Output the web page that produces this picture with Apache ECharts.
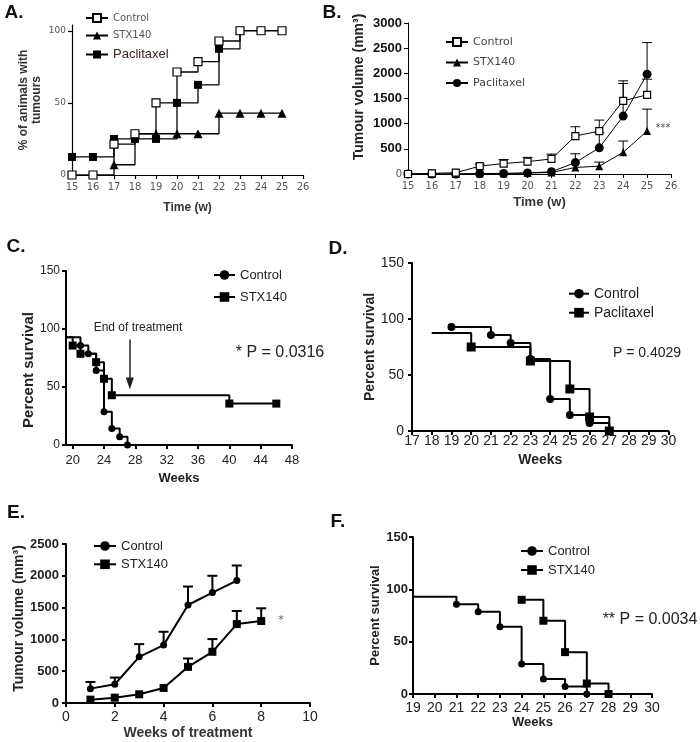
<!DOCTYPE html>
<html><head><meta charset="utf-8">
<script src="https://cdn.jsdelivr.net/npm/echarts@6/dist/echarts.min.js"></script>
<style>html,body{margin:0;padding:0;background:#fff}#main{width:700px;height:742px}</style>
</head><body><div id="main"></div>
<script>
// ---------- Panel A: % of animals with tumours ----------
const aWeeks = [15,16,17,18,19,20,21,22,23,24,25];
const aControl = [0,0,21.4,28.6,50,71.4,78.6,92.9,100,100,100];
const aStxWeeks = [17,18,19,20,21,22,23,24,25];
const aStx = [7.1,28.6,28.6,28.6,28.6,42.9,42.9,42.9,42.9];
const aPacWeeks = [15,16,17,18,19,20,21,22,23];
const aPac = [12.5,12.5,25,25,25,50,62.5,87.5,100];
const aYTicks = [0,50,100];
// ---------- Panel B: tumour volume ----------
const bWeeks = [15,16,17,18,19,20,21,22,23,24,25];
const bControl = [0,13,26,156,208,245,300,754,853,1454,1573];
const bControlSem = [null,null,null,39,78,85,95,185,218,397,311];
const bStx = [0,0,0,10,10,20,30,130,156,430,853];
const bStxSem = [null,null,null,null,null,null,null,null,80,225,436];
const bPac = [0,0,0,5,10,20,45,227,520,1150,1983];
const bPacSem = [null,null,null,null,null,null,null,175,300,648,628];
// ---------- Panel C: survival, Control vs STX140 ----------
const cCtrlWeeks = [19,21,22,23,24,25,26,27];
const cCtrl = [92.9,85.7,78.6,64.3,28.6,14.3,7.1,0];
const cStxWeeks = [19,20,21,23,24,25,40,46];
const cStx = [92.9,85.7,78.6,71.4,57.1,42.9,35.7,35.7];
const cXTicks = [20,24,28,32,36,40,44,48];
const cTreatmentEnd = 27.3;
// ---------- Panel D: survival, Control vs Paclitaxel ----------
const dCtrlWeeks = [19,21,22,23,24,25,26,27];
const dCtrl = [92.9,85.7,78.6,64.3,28.6,14.3,7.1,0];
const dPacWeeks = [18,20,23,25,26,27];
const dPac = [87.5,75,62.5,37.5,12.5,0];
// ---------- Panel E: tumour volume during treatment ----------
const eCtrlWeeks = [1,2,3,4,5,6,7];
const eCtrl = [226,295,726,910,1541,1736,1925];
const eCtrlSem = [105,105,200,210,290,264,237];
const eStxWeeks = [1,2,3,4,5,6,7,8];
const eStx = [53,84,137,237,568,805,1241,1289];
const eStxSem = [null,null,null,null,132,200,206,200];
// ---------- Panel F: survival, Control vs STX140 ----------
const fCtrlWeeks = [19,21,22,23,24,25,26,27];
const fCtrl = [92.9,85.7,78.6,64.3,28.6,14.3,7.1,0];
const fStxWeeks = [24,25,26,27,28];
const fStx = [90,70,40,10,0];

const SANS = "'Liberation Sans', Arial, sans-serif";
const NARROW = "'Liberation Sans Narrow', 'Liberation Sans', Arial, sans-serif";
const DEJAVU = "'DejaVu Sans', Verdana, sans-serif";

const chart = echarts.init(document.getElementById('main'), null, {renderer:'canvas', width:700, height:742});

function axis(kind, idx, o) {
  const ax = {
    type:'value', gridIndex: idx, min:o.min, max:o.max,
    splitLine:{show:false},
    axisLine:{show:true, onZero:false, lineStyle:{color:'#000', width:o.lw}},
    axisTick:{show:true, length:4, lineStyle:{color:'#000', width:o.lw}},
    axisLabel:Object.assign({margin:o.margin, fontSize:o.fs, fontFamily:o.ff, color:o.color||'#222', fontWeight:o.fw||'normal', formatter:v=>String(v)}, o.labelExtra||{}),
    name:o.name, nameLocation:'middle', nameGap:o.gap,
    nameTextStyle:{fontSize:o.nfs, fontWeight:'bold', fontFamily:SANS, color:o.ncolor||'#222', lineHeight:o.nlh, padding:o.npad||0}
  };
  if (o.interval != null) ax.interval = o.interval;
  if (o.ticks) { ax.axisTick.customValues = o.ticks; ax.axisLabel.customValues = o.ticks; }
  return ax;
}

function line(idx, name, xs, ys, o) {
  return {
    type:'line', name:name, xAxisIndex:idx, yAxisIndex:idx,
    step: o.step ? 'end' : false, clip: !!o.clip, silent:true, z:3,
    data: xs.map((x,i)=>({value:[x, ys[i]], symbol:(o.hideFirst && i===0) ? 'none' : o.symbol})),
    symbol:o.symbol, symbolSize:o.size, showAllSymbol:true,
    lineStyle:{color:'#000', width:o.lw},
    itemStyle:{color:o.open ? '#fff' : '#000', borderColor:'#000', borderWidth:o.open ? 1.2 : 0},
    emphasis:{disabled:true}, animation:false,
    markLine:o.markLine
  };
}

function errBars(idx, xs, ys, sems, cap, lw) {
  const data = [];
  xs.forEach((x,i)=>{ if (sems[i] != null) data.push([x, ys[i], ys[i] + sems[i]]); });
  return {
    type:'custom', xAxisIndex:idx, yAxisIndex:idx, silent:true, z:2, animation:false,
    renderItem(params, api) {
      const p0 = api.coord([api.value(0), api.value(1)]);
      const p1 = api.coord([api.value(0), api.value(2)]);
      const st = {stroke:'#000', lineWidth:lw};
      return {type:'group', children:[
        {type:'line', shape:{x1:p0[0], y1:p0[1], x2:p1[0], y2:p1[1]}, style:st},
        {type:'line', shape:{x1:p1[0]-cap/2, y1:p1[1], x2:p1[0]+cap/2, y2:p1[1]}, style:st}
      ]};
    },
    data:data
  };
}

function legend(left, top, names, o) {
  return {
    left:left, top:top, orient:'vertical', itemWidth:o.iw, itemHeight:o.ih, itemGap:o.gap,
    selectedMode:false, formatter:n=>n.split('|')[1],
    textStyle:{fontSize:o.fs, fontFamily:o.ff, color:o.color||'#222'},
    data:names
  };
}

function txt(x, y, text, font, fill) {
  return {type:'text', x:x, y:y, silent:true,
    style:{text:text, font:font, fill:fill||'#111', textAlign:'center', textVerticalAlign:'middle', align:'center', verticalAlign:'middle'}};
}

const option = {
  backgroundColor:'#fff', animation:false,
  grid:[
    {left:72, top:25, width:231, height:150},
    {left:408, top:23, width:263, height:151},
    {left:66, top:271, width:226, height:174},
    {left:412, top:263, width:256.5, height:168},
    {left:66, top:544, width:244, height:159},
    {left:413, top:537, width:239, height:157}
  ],
  xAxis:[
    axis('x',0,{min:15,max:26,interval:1,lw:1.2,margin:7,fs:10,ff:DEJAVU,color:'#555',name:'Time (w)',gap:27,nfs:12,ncolor:'#333'}),
    axis('x',1,{min:15,max:26,interval:1,lw:1,margin:7,fs:10,ff:DEJAVU,color:'#555',name:'Time (w)',gap:22,nfs:13,ncolor:'#333'}),
    axis('x',2,{min:19.15,max:48,ticks:cXTicks,lw:2,margin:9,fs:13,ff:NARROW,name:'Weeks',gap:27,nfs:13}),
    axis('x',3,{min:17,max:30,interval:1,lw:2,margin:3,fs:14,ff:SANS,name:'Weeks',gap:22,nfs:14}),
    axis('x',4,{min:0,max:10,interval:2,lw:2,margin:7,fs:14,ff:SANS,name:'Weeks of treatment',gap:23,nfs:14,ncolor:'#333'}),
    axis('x',5,{min:19,max:30,interval:1,lw:2,margin:7,fs:14,ff:NARROW,name:'Weeks',gap:21,nfs:13})
  ],
  yAxis:[
    axis('y',0,{min:0,max:104,ticks:aYTicks,lw:1.2,margin:6,fs:9,ff:DEJAVU,color:'#555',name:'% of animals with\ntumours',gap:29,nfs:12,nlh:13,ncolor:'#333'}),
    axis('y',1,{min:0,max:3000,interval:500,lw:1,margin:6,fs:13,ff:SANS,name:'Tumour volume (mm³)',gap:42,nfs:14,npad:[0,0,0,23],
      labelExtra:{formatter:v=>v===0?'{z|0}':'{b|'+v+'}', rich:{z:{fontSize:10,fontFamily:DEJAVU,color:'#555'}, b:{fontSize:13,fontWeight:'bold',fontFamily:SANS,color:'#111'}}}}),
    axis('y',2,{min:0,max:150,interval:50,lw:2,margin:6,fs:12,ff:NARROW,name:'Percent survival',gap:26,nfs:15,npad:[0,24,0,0]}),
    axis('y',3,{min:0,max:150,interval:50,lw:2,margin:8,fs:14,ff:SANS,name:'Percent survival',gap:31,nfs:14}),
    axis('y',4,{min:0,max:2500,interval:500,lw:2,margin:7,fs:13,ff:SANS,fw:'bold',name:'Tumour volume (mm³)',gap:40,nfs:14,npad:[0,0,0,10]}),
    axis('y',5,{min:0,max:150,interval:50,lw:2,margin:5,fs:13,ff:NARROW,fw:'bold',name:'Percent survival',gap:28,nfs:13})
  ],
  legend:[
    legend(80, 8, [
      {name:'A|Control', textStyle:{fontSize:10, fontFamily:DEJAVU, color:'#555'}},
      {name:'A|STX140', textStyle:{fontSize:10, fontFamily:DEJAVU, color:'#555'}},
      {name:'A|Paclitaxel', textStyle:{fontSize:13, fontFamily:SANS, color:'#402424'}}
    ], {iw:22, ih:10, gap:7.5, fs:10, ff:DEJAVU}),
    legend(440, 31.5, ['B|Control','B|STX140','B|Paclitaxel'], {iw:22, ih:10, gap:9.5, fs:11, ff:DEJAVU, color:'#444'}),
    legend(208, 263.5, ['C|Control','C|STX140'], {iw:21, ih:12, gap:9, fs:13, ff:SANS}),
    legend(563, 281.7, ['D|Control','D|Paclitaxel'], {iw:20, ih:12, gap:5, fs:14, ff:SANS}),
    legend(88, 534.5, ['E|Control','E|STX140'], {iw:22, ih:12, gap:5.3, fs:13, ff:SANS}),
    legend(515, 539.5, ['F|Control','F|STX140'], {iw:22, ih:12, gap:6, fs:13, ff:SANS})
  ],
  series:[
    // A
    line(0,'A|Paclitaxel',aPacWeeks,aPac,{step:true,symbol:'rect',size:8,lw:1.3}),
    line(0,'A|STX140',aStxWeeks,aStx,{step:true,symbol:'triangle',size:9,lw:1.3}),
    line(0,'A|Control',aWeeks,aControl,{step:true,symbol:'rect',size:8,lw:1.3,open:true}),
    // B
    errBars(1,bWeeks,bPac,bPacSem,10,1),
    errBars(1,bWeeks,bStx,bStxSem,10,1),
    errBars(1,bWeeks,bControl,bControlSem,10,1),
    line(1,'B|Paclitaxel',bWeeks,bPac,{symbol:'circle',size:9,lw:1}),
    line(1,'B|STX140',bWeeks,bStx,{symbol:'triangle',size:8,lw:1}),
    line(1,'B|Control',bWeeks,bControl,{symbol:'rect',size:7,lw:1,open:true}),
    // C
    line(2,'C|Control',cCtrlWeeks,cCtrl,{step:true,clip:true,hideFirst:true,symbol:'circle',size:7,lw:2}),
    line(2,'C|STX140',cStxWeeks,cStx,{step:true,clip:true,hideFirst:true,symbol:'rect',size:8,lw:2,
      markLine:{silent:true, symbol:['none','triangle'], symbolSize:[8,12], label:{show:false},
        lineStyle:{color:'#222', width:1.5, type:'solid'}, animation:false,
        data:[[{coord:[cTreatmentEnd,91]},{coord:[cTreatmentEnd,53]}]]}}),
    // D
    line(3,'D|Paclitaxel',dPacWeeks,dPac,{step:true,hideFirst:true,symbol:'rect',size:9,lw:2}),
    line(3,'D|Control',dCtrlWeeks,dCtrl,{step:true,symbol:'circle',size:8,lw:2}),
    // E
    errBars(4,eCtrlWeeks,eCtrl,eCtrlSem,10,2),
    errBars(4,eStxWeeks,eStx,eStxSem,10,2),
    line(4,'E|Control',eCtrlWeeks,eCtrl,{symbol:'circle',size:7,lw:2}),
    line(4,'E|STX140',eStxWeeks,eStx,{symbol:'rect',size:8,lw:2}),
    // F
    line(5,'F|Control',fCtrlWeeks,fCtrl,{step:true,hideFirst:true,symbol:'circle',size:7,lw:2}),
    line(5,'F|STX140',fStxWeeks,fStx,{step:true,symbol:'rect',size:8,lw:2})
  ],
  graphic:[
    txt(14,13,'A.','bold 19px '+SANS),
    txt(332,13,'B.','bold 19px '+SANS),
    txt(16,247,'C.','bold 19px '+SANS),
    txt(338,249,'D.','bold 19px '+SANS),
    txt(16,513,'E.','bold 19px '+SANS),
    txt(338,522,'F.','bold 19px '+SANS),
    txt(663,128,'***','10px '+DEJAVU,'#555'),
    txt(138,328,'End of treatment','12px '+NARROW,'#222'),
    txt(280,353,'* P = 0.0316','16px '+NARROW,'#222'),
    txt(647,353,'P = 0.4029','14px '+SANS,'#222'),
    txt(650,620,'** P = 0.0034','16px '+NARROW,'#222'),
    txt(281,620,'*','11px '+DEJAVU,'#555')
  ]
};
chart.setOption(option);
</script></body></html>
